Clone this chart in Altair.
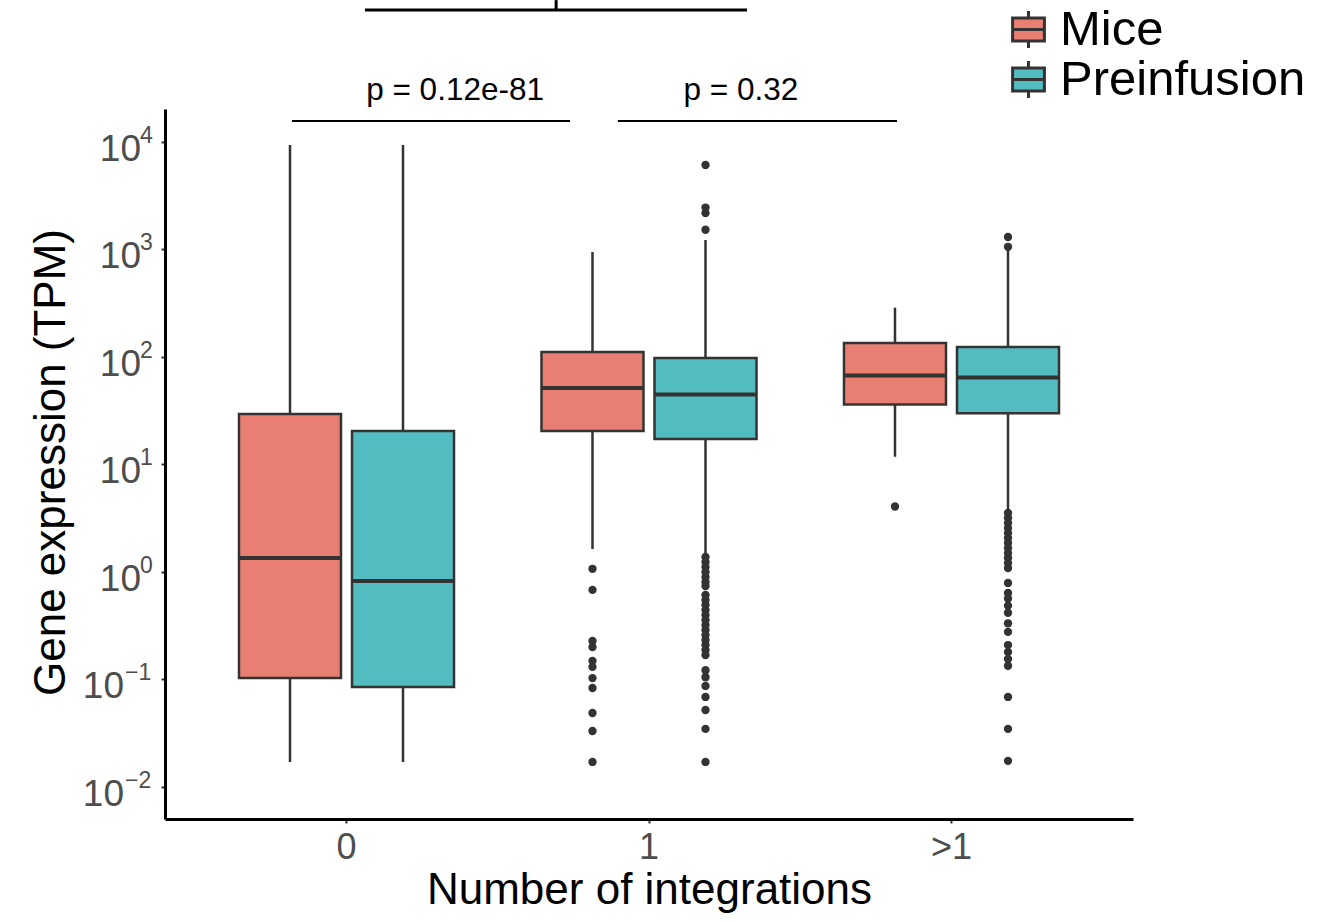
import altair as alt
import pandas as pd

groups = ["0", "1", ">1"]
conditions = ["Mice", "Preinfusion"]
colors = ["#E97F72", "#53BCC1"]

# box statistics per group (order: 0, 1, >1)
mice_lo = [0.0171, 1.64, 11.8]
mice_q1 = [0.103, 20.5, 36.1]
mice_med = [1.35, 51.5, 67.4]
mice_q3 = [29.5, 111, 135]
mice_hi = [9380, 948, 288]

pre_lo = [0.0171, 1.45, 3.80]
pre_q1 = [0.0851, 17.3, 30.0]
pre_med = [0.824, 44.8, 64.4]
pre_q3 = [20.5, 97.9, 124]
pre_hi = [9380, 1225, 989]

# outliers
mice_out_0 = []
mice_out_1 = [1.07, 0.681, 0.228, 0.200, 0.149, 0.131, 0.103, 0.0834, 0.0488, 0.0332, 0.0171]
mice_out_gt1 = [4.07]
pre_out_0 = []
pre_out_1 = [6110, 2455, 2188, 1525, 1.38, 1.24, 1.11, 1.00, 0.898, 0.807, 0.741,
             0.611, 0.549, 0.493, 0.443, 0.398, 0.357, 0.321, 0.289, 0.259, 0.233,
             0.209, 0.188, 0.169, 0.122, 0.105, 0.0871, 0.0688, 0.0520, 0.0347, 0.0171]
pre_out_gt1 = [1307, 1059, 3.54, 3.18, 2.86, 2.56, 2.31, 2.07, 1.86, 1.67, 1.50, 1.35,
               1.21, 1.09, 0.791, 0.638, 0.566, 0.486, 0.418, 0.333, 0.277, 0.209,
               0.180, 0.155, 0.134, 0.0688, 0.0347, 0.0175]

# y tick labels: 10^exponent
tick_values = [0.01, 0.1, 1, 10, 100, 1000, 10000]
tick_exponents = ["−2", "−1", "0", "1", "2", "3", "4"]

# annotations (x in category units: 0, 1, 2)
p_labels = ["p = 0.12e-81", "p = 0.32"]
p_label_x = [0.359, 1.304]
p_label_y = [24600, 24600]
bracket_x1 = [-0.180, 0.897]
bracket_x2 = [0.739, 1.820]
bracket_y = [15700, 15700]
top_bracket_x1 = [0.061]
top_bracket_x2 = [1.324]
top_bracket_y = [169000]
top_tick_x = [0.693]
top_tick_y1 = [169000]
top_tick_y2 = [209000]

FONT = "Liberation Sans"
DARK = "#333333"
LABEL_GREY = "#4D4D4D"

rows = []
for i, g in enumerate(groups):
    rows.append(dict(group=g, condition="Mice", lo=mice_lo[i], q1=mice_q1[i],
                     med=mice_med[i], q3=mice_q3[i], hi=mice_hi[i]))
    rows.append(dict(group=g, condition="Preinfusion", lo=pre_lo[i], q1=pre_q1[i],
                     med=pre_med[i], q3=pre_q3[i], hi=pre_hi[i]))
stats = pd.DataFrame(rows)

out_rows = []
for g, lst in zip(groups, [mice_out_0, mice_out_1, mice_out_gt1]):
    for v in lst:
        out_rows.append(dict(group=g, condition="Mice", value=v))
for g, lst in zip(groups, [pre_out_0, pre_out_1, pre_out_gt1]):
    for v in lst:
        out_rows.append(dict(group=g, condition="Preinfusion", value=v))
outliers = pd.DataFrame(out_rows)

ticks_df = pd.DataFrame(dict(value=tick_values, exp=tick_exponents))
ticks_df["neg"] = ticks_df["exp"].str.startswith("−")
ticks_pos = ticks_df[~ticks_df["neg"]]
ticks_neg = ticks_df[ticks_df["neg"]]

yscale = alt.Scale(type="log", domain=[0.005035, 20277], nice=False)
xscale = alt.Scale(domain=groups, paddingInner=0, paddingOuter=0.1)
offscale = alt.Scale(domain=conditions, paddingInner=0.0973, paddingOuter=0.387)

y_axis = alt.Axis(
    values=tick_values,
    labels=False,
    title="Gene expression (TPM)",
    titleX=-101, titleY=353, titleBaseline="alphabetic", titleAlign="center",
    titleAngle=270,
)
x_axis = alt.Axis(title="Number of integrations", labelAngle=0,
                  labelBaseline="alphabetic", labelPadding=35,
                  titleY=84, titleBaseline="alphabetic")

X = alt.X("group:N", sort=groups, scale=xscale, axis=x_axis)
XO = alt.XOffset("condition:N", sort=conditions, scale=offscale)

whisk = alt.Chart(stats).mark_rule(color=DARK, strokeWidth=2.5).encode(
    x=X, xOffset=XO,
    y=alt.Y("lo:Q", scale=yscale, axis=y_axis),
    y2="hi:Q",
)
box = alt.Chart(stats).mark_bar(stroke=DARK, strokeWidth=2.5, opacity=1).encode(
    x=X, xOffset=XO,
    y=alt.Y("q1:Q", scale=yscale),
    y2="q3:Q",
    color=alt.Color(
        "condition:N",
        scale=alt.Scale(domain=conditions, range=colors),
        legend=alt.Legend(
            title=None, orient="none", legendX=839, legendY=-104,
            symbolType="M-0.86,-0.62H0.86V0.62H-0.86Z M-0.86,0H0.86 M0,-0.62V-1 M0,0.62V1",
            symbolSize=1369, symbolStrokeColor=DARK, symbolStrokeWidth=3,
            symbolOpacity=1, labelFontSize=49, labelFont=FONT, labelColor="black",
            labelOffset=7, rowPadding=-6, labelLimit=0,
        ),
    ),
)
med = alt.Chart(stats).mark_tick(color=DARK, thickness=4, size=102, opacity=1).encode(
    x=X, xOffset=XO,
    y=alt.Y("med:Q", scale=yscale),
)
pts = alt.Chart(outliers).mark_circle(color=DARK, size=70, opacity=1).encode(
    x=X, xOffset=XO,
    y=alt.Y("value:Q", scale=yscale),
)

# y tick labels drawn as "10" plus a raised exponent
base_pos = alt.Chart(ticks_pos).mark_text(
    font=FONT, fontSize=37, color=LABEL_GREY, align="right", baseline="alphabetic", dy=19
).encode(x=alt.value(-24), y=alt.Y("value:Q", scale=yscale), text=alt.value("10"))
base_neg = alt.Chart(ticks_neg).mark_text(
    font=FONT, fontSize=37, color=LABEL_GREY, align="right", baseline="alphabetic", dy=19
).encode(x=alt.value(-41), y=alt.Y("value:Q", scale=yscale), text=alt.value("10"))
sup_pos = alt.Chart(ticks_pos).mark_text(
    font=FONT, fontSize=23, color=LABEL_GREY, align="left", baseline="alphabetic", dy=1
).encode(x=alt.value(-25), y=alt.Y("value:Q", scale=yscale), text="exp:N")
sup_neg = alt.Chart(ticks_neg).mark_text(
    font=FONT, fontSize=23, color=LABEL_GREY, align="left", baseline="alphabetic", dy=1
).encode(x=alt.value(-40), y=alt.Y("value:Q", scale=yscale), text="exp:N")

data_layer = alt.layer(whisk, box, med, pts, base_pos, base_neg, sup_pos, sup_neg)

ax = alt.Scale(domain=[-0.6, 2.6], nice=False, zero=False)
br_df = pd.DataFrame(dict(x1=bracket_x1, x2=bracket_x2, y=bracket_y))
lab_df = pd.DataFrame(dict(label=p_labels, x=p_label_x, y=p_label_y))
top_df = pd.DataFrame(dict(x1=top_bracket_x1, x2=top_bracket_x2, y=top_bracket_y))
tick_df = pd.DataFrame(dict(x=top_tick_x, y1=top_tick_y1, y2=top_tick_y2))

br = alt.Chart(br_df).mark_rule(color="black", strokeWidth=2).encode(
    x=alt.X("x1:Q", scale=ax, axis=None), x2="x2:Q",
    y=alt.Y("y:Q", scale=yscale),
)
lab = alt.Chart(lab_df).mark_text(font=FONT, fontSize=31.5, color="black",
                                  baseline="alphabetic", align="center").encode(
    x=alt.X("x:Q", scale=ax, axis=None),
    y=alt.Y("y:Q", scale=yscale),
    text="label:N",
)
topr = alt.Chart(top_df).mark_rule(color="black", strokeWidth=3).encode(
    x=alt.X("x1:Q", scale=ax, axis=None), x2="x2:Q",
    y=alt.Y("y:Q", scale=yscale),
)
topt = alt.Chart(tick_df).mark_rule(color="black", strokeWidth=3).encode(
    x=alt.X("x:Q", scale=ax, axis=None),
    y=alt.Y("y1:Q", scale=yscale), y2="y2:Q",
)
annot = alt.layer(br, lab, topr, topt)

chart = alt.layer(data_layer, annot).resolve_scale(x="independent").properties(
    width=968, height=710,
    padding={"left": 165, "top": 109, "right": 186, "bottom": 103},
    autosize=alt.AutoSizeParams(type="none"),
).configure_view(stroke=None).configure_axis(
    grid=False,
    domainColor="black", domainWidth=3,
    tickColor=DARK, tickWidth=2, tickSize=4,
    labelFont=FONT, labelFontSize=36, labelColor=LABEL_GREY, labelPadding=6,
    titleFont=FONT, titleFontSize=44, titleColor="black", titleFontWeight="normal",
)

chart.save("out.html", embed_options={"renderer": "svg", "actions": False})
